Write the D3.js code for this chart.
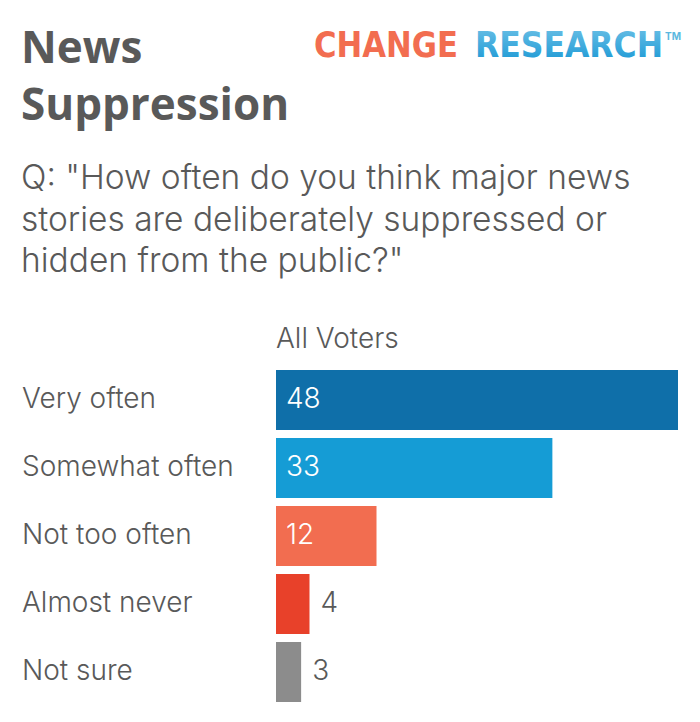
<!DOCTYPE html>
<html><head><meta charset="utf-8">
<script src="https://cdn.jsdelivr.net/npm/d3@7"></script>
<style>
html,body{margin:0;padding:0;background:#fff;}
svg{display:block;font-family:Inter,"Open Sans",sans-serif;}
</style></head>
<body>
<svg id="c" width="700" height="722"></svg>
<script>
const categories = ["Very often","Somewhat often","Not too often","Almost never","Not sure"];
const values = [48,33,12,4,3];
const colors = ["#0f6fa9","#159cd5","#f26d50","#e8412a","#8c8c8c"];
const seriesName = "All Voters";
const titleLines = ["News","Suppression"];
const subtitleLines = ['Q: "How often do you think major news','stories are deliberately suppressed or','hidden from the public?"'];

const svg = d3.select("#c");
const textColor = "#595959";

svg.selectAll("text.title").data(titleLines).join("text")
  .attr("class","title")
  .attr("x",21).attr("y",(d,i)=>63+i*57)
  .attr("font-family","'Open Sans',sans-serif")
  .attr("font-size",44).attr("font-weight",700).attr("fill",textColor)
  .text(d=>d);

svg.selectAll("text.sub").data(subtitleLines).join("text")
  .attr("class","sub")
  .attr("x",21).attr("y",(d,i)=>189+i*41.5)
  .attr("font-size",33.5).attr("font-weight",300).attr("fill",textColor)
  .text(d=>d);

// logo
const grad = svg.append("defs").append("linearGradient").attr("id","lg").attr("x1","0").attr("x2","0").attr("y1","0").attr("y2","1");
grad.append("stop").attr("offset","0").attr("stop-color","#6cc0e6");
grad.append("stop").attr("offset","1").attr("stop-color","#1897d4");
svg.append("text").attr("x",314).attr("y",57).attr("font-size",35).attr("font-weight",700)
  .attr("font-family","'DejaVu Sans Condensed','DejaVu Sans',sans-serif")
  .attr("fill","#f26d50").attr("textLength",144).attr("lengthAdjust","spacingAndGlyphs").text("CHANGE");
svg.append("text").attr("x",475).attr("y",57).attr("font-size",35).attr("font-weight",700)
  .attr("font-family","'DejaVu Sans Condensed','DejaVu Sans',sans-serif")
  .attr("fill","url(#lg)").attr("textLength",188).attr("lengthAdjust","spacingAndGlyphs").text("RESEARCH");
svg.append("text").attr("x",665).attr("y",40).attr("font-size",10).attr("font-weight",700)
  .attr("fill","#5bb8e0").text("TM");

const x = d3.scaleLinear().domain([0,48]).range([276,678]);
const yb = d3.scaleBand().domain(categories).range([370,702]).paddingInner(8/68).paddingOuter(0);

svg.append("text").attr("x",276).attr("y",348).attr("font-size",28).attr("font-weight",300).attr("fill",textColor).text(seriesName);

const data = categories.map((c,i)=>({c,v:values[i],col:colors[i]}));

svg.selectAll("rect.bar").data(data).join("rect")
  .attr("class","bar")
  .attr("x",x(0)).attr("y",d=>yb(d.c))
  .attr("width",d=>x(d.v)-x(0)).attr("height",yb.bandwidth())
  .attr("fill",d=>d.col);

svg.selectAll("text.cat").data(data).join("text")
  .attr("class","cat")
  .attr("x",22).attr("y",d=>yb(d.c)+yb.bandwidth()/2)
  .attr("dy","0.3em").attr("font-size",28).attr("font-weight",300).attr("fill",textColor)
  .text(d=>d.c);

svg.selectAll("text.val").data(data).join("text")
  .attr("class","val")
  .attr("x",d=> (x(d.v)-x(0) > 50) ? x(0)+10 : x(d.v)+11)
  .attr("y",d=>yb(d.c)+yb.bandwidth()/2)
  .attr("dy","0.3em").attr("font-size",28).attr("font-weight",300)
  .attr("fill",d=> (x(d.v)-x(0) > 50) ? "#fff" : textColor)
  .text(d=>d.v);
</script>
</body></html>
